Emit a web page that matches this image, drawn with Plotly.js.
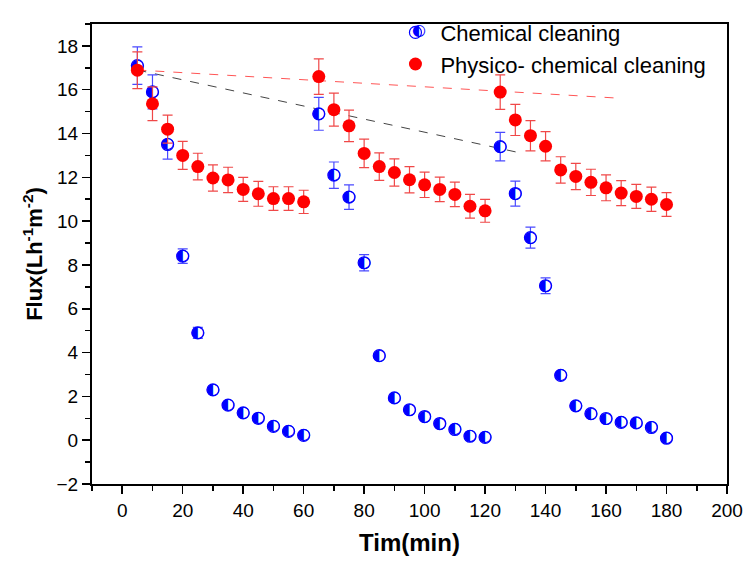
<!DOCTYPE html>
<html>
<head>
<meta charset="utf-8">
<script src="https://cdn.plot.ly/plotly-3.0.1.min.js"></script>
<style>html,body{margin:0;padding:0;background:#fff;}#chart{width:744px;height:563px;}</style>
</head>
<body>
<div id="chart"></div>
<script>
// Time (min)
var timeMin = [5,10,15,20,25,30,35,40,45,50,55,60,65,70,75,80,85,90,95,100,105,110,115,120,125,130,135,140,145,150,155,160,165,170,175,180];
// Chemical cleaning flux (L h-1 m-2)
var chemFlux = [17.1,15.9,13.5,8.4,4.9,2.3,1.6,1.25,1.0,0.63,0.4,0.22,14.9,12.1,11.1,8.1,3.86,1.93,1.39,1.08,0.76,0.49,0.18,0.13,13.4,11.26,9.25,7.05,2.96,1.57,1.21,0.99,0.81,0.79,0.58,0.09];
var chemErr = [0.86,0.78,0.67,0.33,0.25,0.12,0.1,0.1,0.1,0.1,0.1,0.1,0.75,0.6,0.56,0.37,0.15,0.1,0.1,0.1,0.1,0.1,0.1,0.1,0.65,0.57,0.48,0.36,0.15,0.1,0.1,0.1,0.1,0.1,0.1,0.1];
// Physico-chemical cleaning flux
var physFlux = [16.89,15.36,14.2,13.0,12.49,11.97,11.88,11.45,11.25,11.03,11.03,10.88,16.6,15.09,14.35,13.09,12.49,12.22,11.89,11.66,11.45,11.22,10.68,10.47,15.89,14.62,13.9,13.42,12.34,12.04,11.77,11.52,11.28,11.13,11.0,10.76];
var physErr = [0.84,0.77,0.64,0.64,0.61,0.6,0.58,0.55,0.57,0.54,0.54,0.53,0.81,0.75,0.72,0.65,0.63,0.62,0.6,0.58,0.56,0.56,0.54,0.52,0.79,0.71,0.69,0.67,0.6,0.6,0.6,0.59,0.57,0.55,0.55,0.54];
// Dashed trend lines
var chemTrendX = [5,131.5];
var chemTrendY = [16.9,13.12];
var physTrendX = [5,163.5];
var physTrendY = [16.9,15.62];

var HALF = '\u25D0';
var halfGlyph = timeMin.map(function(){return HALF;});

var traces = [
  {x: chemTrendX, y: chemTrendY, mode:'lines', line:{color:'#444', width:1, dash:'dash'}, showlegend:false, hoverinfo:'skip'},
  {x: physTrendX, y: physTrendY, mode:'lines', line:{color:'#ff5555', width:1, dash:'dash'}, showlegend:false, hoverinfo:'skip'},
  {x: timeMin, y: chemFlux, mode:'markers', name:'Chemical cleaning', showlegend:true,
   marker:{symbol:'circle', size:12, color:'white', line:{color:'blue', width:1.2}},
   error_y:{type:'data', array: chemErr, visible:true, color:'#4a4aff', thickness:1.2, width:5}},
  {x: timeMin, y: chemFlux, mode:'text', text: halfGlyph, textposition:'middle center', name:'Chemical cleaning half',
   textfont:{family:'DejaVu Sans', size:16, color:'blue'}, showlegend:false, hoverinfo:'skip'},
  {x: timeMin, y: physFlux, mode:'markers', name:'Physico- chemical cleaning',
   marker:{symbol:'circle', size:13, color:'red', line:{width:0}},
   error_y:{type:'data', array: physErr, visible:true, color:'#f04848', thickness:1.2, width:5}}
];

var layout = {
  width:744, height:563,
  margin:{l:92, r:17, t:16, b:79},
  paper_bgcolor:'white', plot_bgcolor:'white',
  font:{family:'Liberation Sans, Arial, sans-serif', color:'black'},
  showlegend:true,
  legend:{x:0.47, y:1.027, xanchor:'left', yanchor:'top', bgcolor:'rgba(0,0,0,0)', borderwidth:0, itemwidth:40,
          font:{family:'Liberation Sans, Arial, sans-serif', size:22, color:'black'}},
  annotations:[{xref:'paper', yref:'paper', x:0.5150, y:0.987, xanchor:'center', yanchor:'middle',
                text:HALF, showarrow:false, font:{family:'DejaVu Sans', size:16, color:'blue'}}],
  xaxis:{range:[-10,200], tickmode:'linear', tick0:0, dtick:20, ticks:'outside', ticklen:8, tickwidth:1.5,
         tickcolor:'black', showline:true, linecolor:'black', linewidth:2, mirror:true, showgrid:false, zeroline:false,
         minor:{dtick:10, tick0:0, ticks:'outside', ticklen:5, tickwidth:1.5, tickcolor:'black', showgrid:false},
         tickfont:{size:19}, title:{text:'<b>Tim(min)</b>', font:{size:24}, standoff:14}},
  yaxis:{range:[-2,19], tickmode:'linear', tick0:0, dtick:2, ticks:'outside', ticklen:8, tickwidth:1.5,
         tickcolor:'black', showline:true, linecolor:'black', linewidth:2, mirror:true, showgrid:false, zeroline:false,
         minor:{dtick:1, tick0:0, ticks:'outside', ticklen:5, tickwidth:1.5, tickcolor:'black', showgrid:false},
         tickfont:{size:19}, title:{text:'<b>Flux(Lh<sup>-1</sup>m<sup>-2</sup>)</b>', font:{size:22}, standoff:8}}
};

Plotly.newPlot('chart', traces, layout, {displayModeBar:false, staticPlot:true});
</script>
</body>
</html>
